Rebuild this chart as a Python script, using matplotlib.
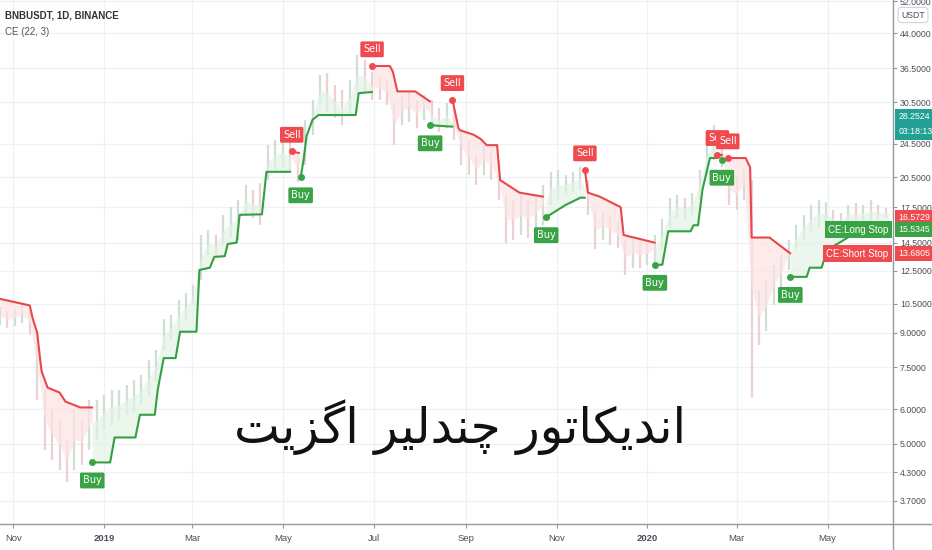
import numpy as np
import pandas as pd
import matplotlib
matplotlib.use('Agg')
import matplotlib.pyplot as plt
import matplotlib.dates as mdates
from matplotlib.lines import Line2D

# BNBUSDT daily, sampled every 5 days: candle high / low
candle_dates = pd.date_range('2018-10-23', periods=120, freq='5D')
highs = [10.3, 10.1, 10.2, 10.4, 10.1, 9.1, 6.66, 6.0, 5.68, 5.11,
         6.0, 5.68, 6.31, 6.31, 6.48, 6.66, 6.66, 6.83, 7.0, 7.2,
         7.8, 8.22, 9.7, 9.9, 10.7, 11.1, 11.6, 15.1, 15.5, 15.1,
         16.8, 17.5, 18.2, 19.7, 19.2, 19.9, 24.3, 25.0, 25.2, 24.7,
         23.1, 27.8, 30.9, 35.2, 35.6, 33.4, 32.5, 34.3, 39.2, 38.1,
         35.8, 34.7, 34.3, 30.1, 31.7, 32.2, 30.9, 31.7, 30.9, 29.6,
         30.4, 29.3, 26.3, 25.0, 23.1, 24.3, 23.7, 22.5, 18.7, 18.2,
         18.7, 18.2, 18.7, 19.7, 21.1, 21.3, 20.8, 21.1, 21.6, 20.2,
         17.2, 17.0, 16.8, 16.2, 14.7, 14.9, 14.6, 14.5, 15.1, 16.4,
         18.4, 18.7, 18.4, 18.9, 21.3, 25.7, 27.0, 23.9, 20.8, 20.5,
         21.3, 20.2, 11.3, 11.9, 12.9, 13.6, 14.7, 15.9, 16.8, 17.7,
         18.2, 18.0, 17.2, 17.0, 17.7, 17.9, 17.7, 18.2, 17.7, 17.4]
lows = [9.4, 9.25, 9.35, 9.5, 8.9, 6.3, 4.85, 4.6, 4.36, 4.09,
        4.36, 4.48, 4.85, 5.11, 5.39, 5.53, 5.68, 5.83, 5.93, 6.15,
        6.48, 6.95, 8.22, 8.67, 9.1, 9.6, 10.4, 11.9, 13.6, 13.4,
        14.3, 14.9, 14.7, 16.8, 16.5, 15.9, 20.2, 21.3, 21.6, 21.1,
        20.0, 21.9, 25.7, 30.1, 29.0, 28.1, 27.0, 28.5, 31.7, 32.2,
        30.9, 30.9, 30.1, 24.3, 27.0, 27.5, 26.6, 27.8, 26.6, 26.0,
        26.6, 25.0, 21.9, 20.8, 19.7, 20.8, 20.2, 18.2, 14.5, 14.7,
        15.1, 14.9, 15.5, 15.9, 17.7, 18.2, 18.7, 19.0, 19.2, 16.8,
        14.0, 14.7, 14.3, 14.1, 12.2, 12.7, 12.7, 12.9, 13.1, 14.0,
        15.7, 16.5, 16.4, 16.8, 18.2, 20.8, 22.5, 21.6, 17.7, 17.2,
        18.2, 6.38, 8.44, 9.1, 10.4, 11.3, 12.55, 14.0, 14.7, 15.4,
        15.7, 15.9, 15.7, 15.7, 16.2, 15.9, 16.2, 16.2, 16.4, 16.5]

# Chandelier Exit (22, 3) stop lines, one list per trend leg
short1_dates = ['2018-10-23', '2018-11-12', '2018-11-14', '2018-11-17', '2018-11-19', '2018-11-20',
                '2018-11-24', '2018-12-02', '2018-12-06', '2018-12-16', '2018-12-24']
short1_vals = [10.77, 10.4, 9.7, 9.0, 7.8, 7.33, 6.73, 6.56, 6.25, 6.06, 6.06]
long1_dates = ['2018-12-24', '2019-01-05', '2019-01-08', '2019-01-22', '2019-01-25', '2019-02-04',
               '2019-02-06', '2019-02-10', '2019-02-18', '2019-02-21', '2019-03-04', '2019-03-06',
               '2019-03-13', '2019-03-16', '2019-03-23', '2019-03-25', '2019-03-31', '2019-04-02',
               '2019-04-17', '2019-04-20', '2019-05-06']
long1_vals = [4.53, 4.53, 5.17, 5.17, 5.83, 5.83, 6.66, 7.87, 7.87, 9.05, 9.05, 12.55,
              12.7, 13.45, 13.5, 14.4, 14.5, 16.8, 16.85, 21.1, 21.1]
short2_dates = ['2019-05-07', '2019-05-12']
short2_vals = [23.5, 23.3]
long2_dates = ['2019-05-13', '2019-05-15', '2019-05-17', '2019-05-21', '2019-05-25', '2019-06-19',
               '2019-06-21', '2019-06-30']
long2_vals = [20.5, 22.5, 25.5, 27.8, 28.5, 28.5, 32.0, 32.2]
short3_dates = ['2019-06-30', '2019-07-12', '2019-07-14', '2019-07-17', '2019-07-29', '2019-08-08']
short3_vals = [36.95, 36.95, 35.8, 32.3, 32.3, 30.6]
long3_dates = ['2019-08-08', '2019-08-23']
long3_vals = [27.0, 26.8]
short4_dates = ['2019-08-23', '2019-08-27', '2019-08-28', '2019-09-06', '2019-09-11', '2019-09-15',
                '2019-09-22', '2019-09-24', '2019-10-07', '2019-10-23']
short4_vals = [30.9, 26.6, 26.3, 25.7, 25.1, 24.3, 24.3, 20.2, 18.9, 18.5]
long4_dates = ['2019-10-25', '2019-11-07', '2019-11-17', '2019-11-20']
long4_vals = [16.6, 17.7, 18.4, 18.4]
short5_dates = ['2019-11-20', '2019-11-22', '2019-11-30', '2019-12-14', '2019-12-16', '2020-01-06']
short5_vals = [21.3, 18.9, 18.5, 17.5, 15.1, 14.5]
long5_dates = ['2020-01-06', '2020-01-11', '2020-01-15', '2020-01-30', '2020-02-01', '2020-02-04',
               '2020-02-07', '2020-02-12', '2020-02-17']
long5_vals = [12.9, 12.9, 15.4, 15.4, 15.9, 15.9, 19.2, 22.7, 22.7]
short6_dates = ['2020-02-17', '2020-02-20']
short6_vals = [23.1, 23.1]
long6_dates = ['2020-02-20', '2020-02-24']
long6_vals = [22.5, 22.5]
short7_dates = ['2020-02-24', '2020-03-07', '2020-03-10', '2020-03-11', '2020-03-23', '2020-04-06']
short7_vals = [22.7, 22.7, 21.6, 14.9, 14.9, 13.7]
long7_dates = ['2020-04-06', '2020-04-17', '2020-04-19', '2020-04-27', '2020-05-01', '2020-05-09',
               '2020-05-16', '2020-06-11']
long7_vals = [12.1, 12.1, 12.7, 12.7, 14.0, 14.5, 15.0, 15.53]

buy_dates = ['2018-12-24', '2019-05-13', '2019-08-08', '2019-10-25', '2020-01-06', '2020-02-20', '2020-04-06']
buy_vals = [4.53, 20.5, 27.0, 16.6, 12.9, 22.5, 12.1]
sell_dates = ['2019-05-07', '2019-06-30', '2019-08-23', '2019-11-20', '2020-02-17', '2020-02-24']
sell_vals = [23.5, 36.95, 30.9, 21.3, 23.1, 22.7]

price_ticks = [3.7, 4.3, 5.0, 6.0, 7.5, 9.0, 10.5, 12.5, 14.5, 17.5, 20.5, 24.5, 30.5, 36.5, 44.0, 52.0]
month_ticks = ['2018-11-01', '2019-01-01', '2019-03-01', '2019-05-01', '2019-07-01', '2019-09-01',
               '2019-11-01', '2020-01-01', '2020-03-01', '2020-05-01']
month_labels = ['Nov', '2019', 'Mar', 'May', 'Jul', 'Sep', 'Nov', '2020', 'Mar', 'May']

last_price = 16.5729
long_stop = 15.5345
short_stop = 13.6805
other_price = 28.2524

title_fa = 'اندیکاتور چندلیر اگزیت'

RED = '#e8474c'
GREEN = '#34a043'
LBL_RED = '#ef4b4f'
LBL_GREEN = '#3aa346'
TEAL = '#22a095'
TXT = '#4a4e5a'
NARROW = ['Liberation Sans Narrow', 'Liberation Sans', 'DejaVu Sans']

# matplotlib has no arabic shaping, so pick the contextual forms by hand
forms = {
    '\u0627': ('\ufe8d', '\ufe8e', None, None),
    '\u0646': ('\ufee5', '\ufee6', '\ufee7', '\ufee8'),
    '\u062f': ('\ufea9', '\ufeaa', None, None),
    '\u06cc': ('\ufbfc', '\ufbfd', '\ufbfe', '\ufbff'),
    '\u06a9': ('\ufb8e', '\ufb8f', '\ufb90', '\ufb91'),
    '\u062a': ('\ufe95', '\ufe96', '\ufe97', '\ufe98'),
    '\u0648': ('\ufeed', '\ufeee', None, None),
    '\u0631': ('\ufead', '\ufeae', None, None),
    '\u0686': ('\ufb7a', '\ufb7b', '\ufb7c', '\ufb7d'),
    '\u0644': ('\ufedd', '\ufede', '\ufedf', '\ufee0'),
    '\u06af': ('\ufb92', '\ufb93', '\ufb94', '\ufb95'),
    '\u0632': ('\ufeaf', '\ufeb0', None, None),
}


def shape(s):
    s = s.replace('\u064a', '\u06cc').replace('\u0643', '\u06a9')
    out = []
    for i, ch in enumerate(s):
        if ch not in forms:
            out.append(ch)
            continue
        prev = s[i - 1] if i > 0 else ' '
        nxt = s[i + 1] if i + 1 < len(s) else ' '
        jp = prev in forms and forms[prev][2] is not None
        jn = nxt in forms and forms[ch][2] is not None
        iso, fin, ini, med = forms[ch]
        if jp and jn:
            out.append(med)
        elif jp:
            out.append(fin)
        elif jn:
            out.append(ini)
        else:
            out.append(iso)
    return ''.join(reversed(out))


def axis_box(y, txt, fc, dy=0):
    ax.annotate(txt, (1.0, y), xycoords=ax.get_yaxis_transform(), xytext=(4, dy),
                textcoords='offset points', ha='left', va='center', fontsize=6.3, family=NARROW,
                color='white', bbox=dict(boxstyle='square,pad=0.35', fc=fc, ec='none'),
                zorder=10, annotation_clip=False)


fig = plt.figure(figsize=(9.32, 5.5), dpi=100)
ax = fig.add_axes([0, 26 / 550, 893 / 932, 524 / 550])
ax.set_yscale('log')
ax.set_ylim(3.27, 52.4)
ax.set_xlim(pd.Timestamp('2018-10-23'), pd.Timestamp('2020-06-14'))

for v in price_ticks:
    ax.axhline(v, color='#eef0f4', lw=0.9, zorder=0)
for d in month_ticks:
    ax.axvline(pd.Timestamp(d), color='#eef0f4', lw=0.9, zorder=0)

# faded candles
cn = mdates.date2num(candle_dates)
hi = np.array(highs)
lo = np.array(lows)
mid = np.sqrt(hi * lo)
cols = ['#d0ded5' if i == 0 or mid[i] >= mid[i - 1] else '#ecd0d2' for i in range(len(mid))]
ax.vlines(cn, lo, hi, colors=cols, lw=1.6, zorder=1)

segments = [
    ('s', short1_dates, short1_vals), ('l', long1_dates, long1_vals),
    ('s', short2_dates, short2_vals), ('l', long2_dates, long2_vals),
    ('s', short3_dates, short3_vals), ('l', long3_dates, long3_vals),
    ('s', short4_dates, short4_vals), ('l', long4_dates, long4_vals),
    ('s', short5_dates, short5_vals), ('l', long5_dates, long5_vals),
    ('s', short6_dates, short6_vals), ('l', long6_dates, long6_vals),
    ('s', short7_dates, short7_vals), ('l', long7_dates, long7_vals),
]
for kind, d, v in segments:
    dn = mdates.date2num(pd.to_datetime(d))
    grid = np.arange(dn[0], dn[-1] + 0.25, 0.25)
    stop_g = np.exp(np.interp(grid, dn, np.log(v)))
    mid_g = np.exp(np.interp(grid, cn, np.log(mid)))
    c = RED if kind == 's' else GREEN
    fc = '#fde3e4' if kind == 's' else '#e3f3e6'
    ax.fill_between(grid, stop_g, mid_g, color=fc, alpha=0.7, lw=0, zorder=2)
    ax.plot(dn, v, color=c, lw=1.5, solid_joinstyle='round', solid_capstyle='round', zorder=3)

for d, v in zip(buy_dates, buy_vals):
    x = pd.Timestamp(d)
    ax.plot(x, v, 'o', color=LBL_GREEN, ms=4, zorder=5)
    ax.annotate('Buy', (x, v), xytext=(0, -13), textcoords='offset points', ha='center', va='center',
                color='white', fontsize=7, family='DejaVu Sans', zorder=6,
                bbox=dict(boxstyle='round,pad=0.3,rounding_size=0.15', fc=LBL_GREEN, ec='none'))
for d, v in zip(sell_dates, sell_vals):
    x = pd.Timestamp(d)
    ax.plot(x, v, 'o', color=LBL_RED, ms=4, zorder=5)
    ax.annotate('Sell', (x, v), xytext=(0, 12), textcoords='offset points', ha='center', va='center',
                color='white', fontsize=7, family='DejaVu Sans', zorder=6,
                bbox=dict(boxstyle='round,pad=0.3,rounding_size=0.15', fc=LBL_RED, ec='none'))

# price scale on the right
ax.yaxis.tick_right()
ax.set_yticks(price_ticks)
ax.set_yticklabels(['%.4f' % v for v in price_ticks], family=NARROW)
ax.yaxis.set_minor_locator(matplotlib.ticker.NullLocator())
ax.tick_params(axis='y', length=3, width=0.8, color='#9598a1', labelsize=6.3,
               labelcolor=TXT, pad=2)
ax.set_xticks(pd.to_datetime(month_ticks))
ax.set_xticklabels(month_labels, family=NARROW)
ax.tick_params(axis='x', length=3, width=0.8, color='#9598a1', labelsize=6.8,
               labelcolor=TXT, pad=4)
for lab in ax.get_xticklabels():
    if lab.get_text() in ('2019', '2020'):
        lab.set_fontweight('bold')
for s in ['top', 'left', 'right', 'bottom']:
    ax.spines[s].set_visible(False)
fig.add_artist(Line2D([0, 1], [26 / 550, 26 / 550], color='#9598a1', lw=1.0))
fig.add_artist(Line2D([893 / 932, 893 / 932], [0, 1], color='#9598a1', lw=1.0))

axis_box(other_price, '%.4f' % other_price, TEAL)
axis_box(other_price, '03:18:13', TEAL, dy=-11)
axis_box(last_price, '%.4f' % last_price, LBL_RED)
axis_box(long_stop, '%.4f' % long_stop, LBL_GREEN)
axis_box(short_stop, '%.4f' % short_stop, LBL_RED)

yt = ax.get_yaxis_transform()
ax.text(0.995, long_stop, 'CE:Long Stop', transform=yt, ha='right', va='center', fontsize=7,
        family=NARROW, color='white', bbox=dict(boxstyle='square,pad=0.35', fc=LBL_GREEN, ec='none'),
        zorder=10)
ax.text(0.995, short_stop, 'CE:Short Stop', transform=yt, ha='right', va='center', fontsize=7,
        family=NARROW, color='white', bbox=dict(boxstyle='square,pad=0.35', fc=LBL_RED, ec='none'),
        zorder=10)

fig.text(913 / 932, 1 - 15 / 550, 'USDT', ha='center', va='center', fontsize=6.3, family=NARROW,
         color=TXT, bbox=dict(boxstyle='round,pad=0.35', fc='white', ec='#d1d4dc', lw=0.8))

fig.text(5 / 932, 1 - 16 / 550, 'BNBUSDT, 1D, BINANCE', ha='left', va='center', fontsize=7,
         family=NARROW, fontweight='bold', color='#333333')
fig.text(5 / 932, 1 - 32 / 550, 'CE (22, 3)', ha='left', va='center', fontsize=7,
         family=NARROW, color='#555555')

fig.text(460 / 932, 1 - 443 / 550, shape(title_fa), ha='center', va='baseline', fontsize=35,
         family='DejaVu Sans', color='#111111')

fig.savefig('out.png', dpi=100)
